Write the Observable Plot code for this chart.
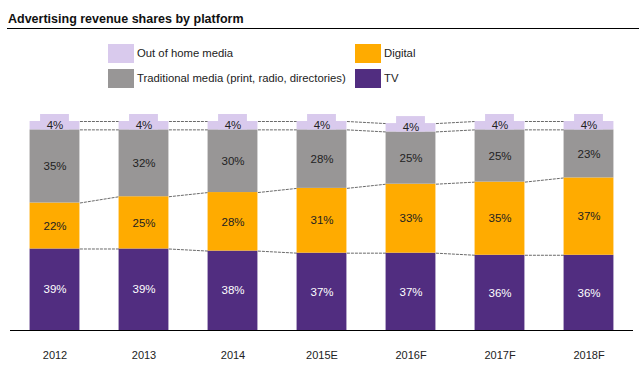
<!DOCTYPE html>
<html><head><meta charset="utf-8">
<script src="https://cdn.jsdelivr.net/npm/d3@7"></script>
<script src="https://cdn.jsdelivr.net/npm/@observablehq/plot@0.6"></script>
<style>
body{margin:0;background:#fff;font-family:"Liberation Sans",Arial,sans-serif;}
#wrap{position:relative;width:639px;height:370px;overflow:hidden}
#chart{position:absolute;left:0;top:0}
#title{position:absolute;left:8px;top:12px;font-weight:bold;font-size:12.5px;color:#111;white-space:nowrap}
#rule{position:absolute;left:7px;top:28px;width:632px;height:1px;background:#000}
.sw{position:absolute;width:26px;height:19px}
.lt{position:absolute;font-size:11.3px;color:#222;line-height:19px;white-space:nowrap}
</style></head><body>
<div id="wrap">
  <div id="chart"></div>
  <div id="title">Advertising revenue shares by platform</div>
  <div id="rule"></div>
  <div id="legend"></div>
</div>
<script>
const years = ["2012","2013","2014","2015E","2016F","2017F","2018F"];
const tv          = [39,39,38,37,37,36,36];
const digital     = [22,25,28,31,33,35,37];
const traditional = [35,32,30,28,25,25,23];
const outOfHome   = [4,4,4,4,4,4,4];
const seriesNames = ["TV","Digital","Traditional media (print, radio, directories)","Out of home media"];
const seriesColors = ["#512D80","#FFAB00","#989696","#D9CAED"];
const seriesValues = [tv, digital, traditional, outOfHome];

// stacked rows
const rows = [];
const cums = [];
years.forEach((yr, i) => {
  let c = 0; const lv = [];
  seriesValues.forEach((arr, k) => {
    const v = arr[i];
    rows.push({i, year: yr, series: seriesNames[k], value: v, y1: c, y2: c + v});
    c += v; lv.push(c);
  });
  cums.push(lv);
});
const hw = 0.28;
const links = [];
for (let k = 0; k < 4; k++) for (let i = 0; i < years.length - 1; i++)
  links.push({x1: i + hw, x2: i + 1 - hw, y1: cums[i][k], y2: cums[i+1][k]});
const ooh = rows.filter(d => d.series === "Out of home media");

const plot = Plot.plot({
  width: 639, height: 370,
  marginTop: 121, marginBottom: 40, marginLeft: 10, marginRight: 6,
  style: {fontFamily: '"Liberation Sans", Arial, sans-serif', color: "#222", background: "transparent"},
  x: {domain: [-0.5, years.length - 0.5], axis: null},
  y: {domain: [0, 100], axis: null},
  color: {domain: seriesNames, range: seriesColors},
  marks: [
    Plot.link(links, {x1: "x1", x2: "x2", y1: "y1", y2: "y2", stroke: "#444", strokeWidth: 0.8, strokeDasharray: "3,1"}),
    Plot.rect(rows, {x1: d => d.i - hw, x2: d => d.i + hw, y1: "y1", y2: "y2", fill: "series"}),
    Plot.rect(ooh, {x1: d => d.i - hw, x2: d => d.i + hw, y1: "y1", y2: "y2", insetLeft: 10.5, insetRight: 10.5, insetTop: -7, fill: seriesColors[3]}),
    Plot.text(rows.filter(d => d.series !== "TV"), {x: "i", y: d => (d.y1 + d.y2) / 2, text: d => d.value + "%", fill: "#222", fontSize: 11.5}),
    Plot.text(rows.filter(d => d.series === "TV"), {x: "i", y: d => (d.y1 + d.y2) / 2, text: d => d.value + "%", fill: "white", fontSize: 11.5}),
    Plot.ruleY([0], {stroke: "#000", strokeWidth: 1}),
    Plot.axisX({ticks: d3.range(years.length), tickFormat: i => years[i], tickSize: 0, tickPadding: 21, fontSize: 11})
  ]
});
document.getElementById("chart").appendChild(plot);

// legend
const legendItems = [
  {k: 3, x: 108, y: 44},
  {k: 2, x: 108, y: 69},
  {k: 1, x: 355, y: 44},
  {k: 0, x: 355, y: 69}
];
const lg = document.getElementById("legend");
legendItems.forEach(it => {
  const s = document.createElement("div");
  s.className = "sw"; s.style.left = it.x + "px"; s.style.top = it.y + "px";
  s.style.background = seriesColors[it.k];
  lg.appendChild(s);
  const t = document.createElement("div");
  t.className = "lt"; t.style.left = (it.x + 29) + "px"; t.style.top = it.y + "px";
  t.textContent = seriesNames[it.k];
  lg.appendChild(t);
});
</script>
</body></html>
